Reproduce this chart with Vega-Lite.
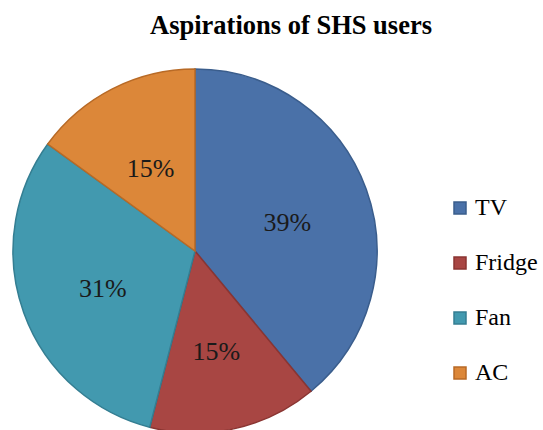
{
  "$schema": "https://vega.github.io/schema/vega-lite/v6.json",
  "autosize": {"type": "none"},
  "width": 364,
  "height": 358,
  "padding": {"left": 13, "top": 72, "right": 166, "bottom": 0},
  "background": "white",
  "title": {
    "text": "Aspirations  of SHS users",
    "font": "Liberation Serif",
    "fontSize": 26.5,
    "fontWeight": "bold",
    "color": "#000000",
    "anchor": "middle",
    "dx": 96,
    "offset": 27
  },
  "data": {
    "values": [
      {"item": "TV", "share": 39, "label": "39%", "ord": 1},
      {"item": "Fridge", "share": 15, "label": "15%", "ord": 2},
      {"item": "Fan", "share": 31, "label": "31%", "ord": 3},
      {"item": "AC", "share": 15, "label": "15%", "ord": 4}
    ]
  },
  "config": {
    "font": "Times New Roman, Liberation Serif, serif",
    "view": {"stroke": null}
  },
  "encoding": {
    "theta": {"field": "share", "type": "quantitative", "stack": true},
    "order": {"field": "ord", "type": "quantitative"}
  },
  "layer": [
    {
      "mark": {"type": "arc", "outerRadius": 182, "strokeWidth": 1.5},
      "encoding": {
        "fill": {
          "field": "item", "type": "nominal", "title": null,
          "sort": ["TV", "Fridge", "Fan", "AC"],
          "scale": {"domain": ["TV", "Fridge", "Fan", "AC"], "range": ["#4A71A8", "#A84643", "#4299AF", "#DC8739"]},
          "legend": {
            "orient": "none", "legendX": 435, "legendY": 124,
            "symbolType": "square", "symbolSize": 144, "symbolStrokeWidth": 1.5,
            "labelFont": "Times New Roman, Liberation Serif, serif", "labelFontSize": 24, "labelColor": "#000000",
            "rowPadding": 31, "labelOffset": 3, "symbolOpacity": 1, "labelLimit": 120
          }
        },
        "stroke": {
          "field": "item", "type": "nominal", "title": null,
          "sort": ["TV", "Fridge", "Fan", "AC"],
          "scale": {"domain": ["TV", "Fridge", "Fan", "AC"], "range": ["#3A5D8C", "#8A3532", "#347E92", "#B86A26"]}
        }
      }
    },
    {
      "mark": {"type": "text", "radius": 98, "dy": 5, "font": "Times New Roman, Liberation Serif, serif", "fontSize": 26, "color": "#1a1a1a"},
      "encoding": {"text": {"field": "label"}}
    }
  ]
}
